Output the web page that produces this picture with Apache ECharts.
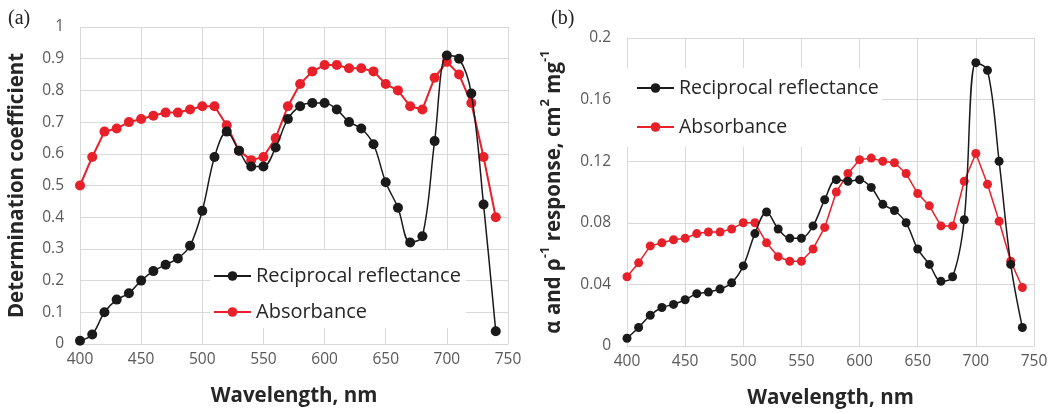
<!DOCTYPE html>
<html><head><meta charset="utf-8">
<script src="https://cdn.jsdelivr.net/npm/echarts@6/dist/echarts.min.js"></script>
<style>html,body{margin:0;padding:0;background:#fff}#c{width:1055px;height:414px}</style>
</head><body><div id="c"></div>
<script>
var wavelengths = [400,410,420,430,440,450,460,470,480,490,500,510,520,530,540,550,560,570,580,590,600,610,620,630,640,650,660,670,680,690,700,710,720,730,740];
// Panel (a): determination coefficient
var aReciprocal = [0.01,0.03,0.10,0.14,0.16,0.20,0.23,0.25,0.27,0.31,0.42,0.59,0.67,0.61,0.56,0.56,0.62,0.71,0.75,0.76,0.76,0.74,0.70,0.68,0.63,0.51,0.43,0.32,0.34,0.64,0.91,0.90,0.79,0.44,0.04];
var aAbsorbance = [0.50,0.59,0.67,0.68,0.70,0.71,0.72,0.73,0.73,0.74,0.75,0.75,0.69,0.61,0.58,0.59,0.65,0.75,0.82,0.86,0.88,0.88,0.87,0.87,0.86,0.82,0.80,0.75,0.74,0.84,0.89,0.85,0.76,0.59,0.40];
// Panel (b): alpha and rho^-1 response
var bReciprocal = [0.005,0.012,0.020,0.025,0.027,0.030,0.034,0.035,0.037,0.041,0.052,0.073,0.087,0.076,0.070,0.070,0.078,0.095,0.108,0.107,0.108,0.103,0.092,0.088,0.080,0.063,0.053,0.042,0.045,0.082,0.184,0.179,0.120,0.053,0.012];
var bAbsorbance = [0.045,0.054,0.065,0.067,0.069,0.070,0.073,0.074,0.074,0.076,0.080,0.080,0.067,0.058,0.055,0.055,0.063,0.077,0.100,0.112,0.121,0.122,0.120,0.119,0.112,0.099,0.091,0.078,0.078,0.107,0.125,0.105,0.081,0.055,0.038];
var seriesNames = ['Reciprocal reflectance','Absorbance'];
var panelLabels = ['(a)','(b)'];

function pairs(ys){ return wavelengths.map(function(x,i){ return [x, ys[i]]; }); }

var gridColor = '#d9d9d9';
var tickFont = {fontFamily:'Open Sans', fontSize:15.5, color:'#595959'};
var blackC = '#1a1a1a', redC = '#e8202a';

function xAxis(gi){
  return {type:'value', gridIndex:gi, min:400, max:750, interval:50,
    name:'Wavelength, nm', nameLocation:'middle', nameGap:42,
    nameTextStyle:{fontFamily:'Open Sans', fontWeight:'bold', fontSize:20.5, color:'#262626'},
    axisLine:{show:true, lineStyle:{color:gridColor}}, axisTick:{show:false},
    axisLabel:Object.assign({margin:8}, tickFont),
    splitLine:{show:true, lineStyle:{color:gridColor, width:1}}};
}
function lineSeries(name, data, color, gi, smooth, size, lw){
  return {type:'line', name:name, xAxisIndex:gi, yAxisIndex:gi, data:data,
    smooth:smooth, symbol:'circle', symbolSize:size, showSymbol:true,
    lineStyle:{color:color, width:lw}, itemStyle:{color:color}, z: name==='Absorbance'?3:4};
}
var legendText = {fontFamily:'Open Sans', fontSize:20, color:'#262626'};

var chart = echarts.init(document.getElementById('c'), null, {renderer:'canvas'});
chart.setOption({
  animation:false,
  backgroundColor:'#fff',
  title:[
    {text:panelLabels[0], left:3, top:4, textStyle:{fontFamily:'Liberation Serif', fontWeight:'normal', fontSize:20, color:'#222'}},
    {text:panelLabels[1], left:546, top:4, textStyle:{fontFamily:'Liberation Serif', fontWeight:'normal', fontSize:20, color:'#222'}}
  ],
  grid:[
    {left:80, right:547, top:27, bottom:70},
    {left:627, right:21, top:38, bottom:68}
  ],
  xAxis:[xAxis(0), xAxis(1)],
  yAxis:[
    {type:'value', gridIndex:0, min:0, max:1, interval:0.1,
      name:'Determination coefficient', nameLocation:'middle', nameGap:52, nameRotate:90,
      nameTextStyle:{fontFamily:'Open Sans', fontWeight:'bold', fontSize:20.5, color:'#262626'},
      axisLine:{show:false}, axisTick:{show:false},
      axisLabel:Object.assign({margin:16}, tickFont),
      splitLine:{show:true, lineStyle:{color:gridColor, width:1}}},
    {type:'value', gridIndex:1, min:0, max:0.2, interval:0.04,
      name:'{n|α and ρ}{s|-1}{n| response, cm}{s|2}{n| mg}{s|-1}', nameLocation:'middle', nameGap:62, nameRotate:90,
      nameTextStyle:{fontFamily:'Open Sans', fontWeight:'bold', fontSize:20.5, color:'#262626',
        rich:{n:{fontFamily:'Open Sans', fontWeight:'bold', fontSize:20.5, color:'#262626', lineHeight:26, verticalAlign:'bottom'},
              s:{fontFamily:'Open Sans', fontWeight:'bold', fontSize:13, color:'#262626', lineHeight:26, verticalAlign:'top'}}},
      axisLine:{show:false}, axisTick:{show:false},
      axisLabel:Object.assign({margin:16, formatter:function(v){return String(Math.round(v*100)/100);}}, tickFont),
      splitLine:{show:true, lineStyle:{color:gridColor, width:1}}}
  ],
  legend:[
    {data:seriesNames, orient:'vertical', left:210, top:250, padding:[16,5,6,3], itemGap:16,
      itemWidth:37, itemHeight:12, backgroundColor:'#fff', textStyle:legendText},
    {data:seriesNames, orient:'vertical', left:626, top:68, padding:[10,3,10,10], itemGap:19,
      itemWidth:37, itemHeight:12, backgroundColor:'#fff', textStyle:Object.assign({}, legendText, {fontSize:19.5})}
  ],
  series:[
    lineSeries(seriesNames[0], pairs(aReciprocal), blackC, 0, 0.35, 10, 1.5),
    lineSeries(seriesNames[1], pairs(aAbsorbance), redC, 0, false, 10, 2),
    lineSeries(seriesNames[0], pairs(bReciprocal), blackC, 1, 0.35, 9, 1.5),
    lineSeries(seriesNames[1], pairs(bAbsorbance), redC, 1, false, 9, 1.5)
  ]
});
</script></body></html>
